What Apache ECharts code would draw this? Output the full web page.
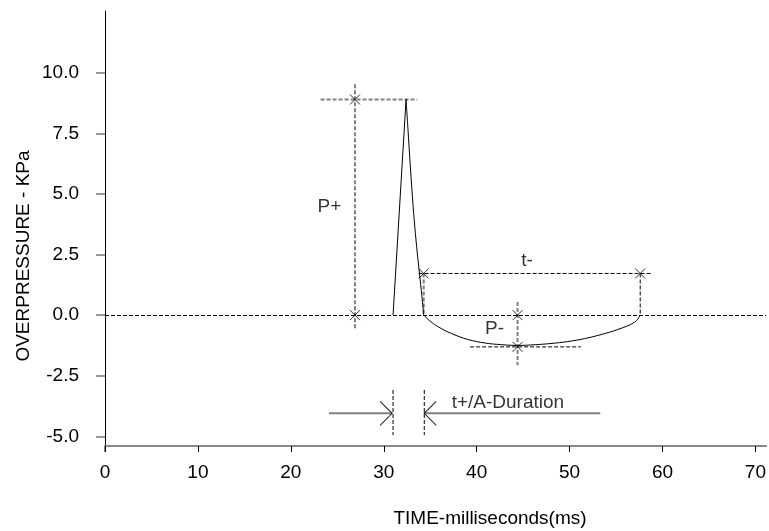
<!DOCTYPE html>
<html><head><meta charset="utf-8">
<script src="https://cdn.jsdelivr.net/npm/echarts@6/dist/echarts.min.js"></script>
<style>html,body{margin:0;padding:0;background:#fff}#c{width:769px;height:531px}</style>
</head><body><div id="c"></div>
<script>
// ---- data ----
const xTicks = [0, 10, 20, 30, 40, 50, 60, 70];
const yTicks = [-5, -2.5, 0, 2.5, 5, 7.5, 10];
const xTitle = 'TIME-milliseconds(ms)';
const yTitle = 'OVERPRESSURE - KPa';

const risePhase = [[31.0, 0], [32.4, 8.9]];
const decayPhase = [[32.4, 8.9], [32.6, 7.7], [32.85, 6.2], [33.1, 4.8], [33.35, 3.6], [33.6, 2.6], [33.85, 1.7], [34.1, 0.8], [34.3, 0]];
const negativePhase = [[34.3, 0], [35.0, -0.25], [35.9, -0.49], [37.3, -0.76], [39.1, -1.01], [40.9, -1.15], [42.7, -1.22], [44.5, -1.25], [46.3, -1.22], [48.0, -1.17], [49.8, -1.09], [51.6, -0.97], [53.4, -0.80], [55.2, -0.59], [57.0, -0.29], [57.6, 0]];

const crossMarkers = [[26.9, 8.9], [26.9, 0], [34.3, 1.72], [57.6, 1.72], [44.4, 0], [44.4, -1.31]];

const greyDashSegments = [
  [[26.9, 9.53], [26.9, -0.62]],
  [[23.2, 8.9], [33.6, 8.9]],
  [[34.3, 1.72], [34.3, 0]],
  [[44.4, 0.545], [44.4, -2.07]]
];
const blackDashSegments = [
  [[33.75, 1.72], [58.9, 1.72]],
  [[57.6, 1.72], [57.6, 0]],
  [[39.3, -1.31], [51.2, -1.31]],
  [[31.0, -3.09], [31.0, -4.95]],
  [[34.36, -3.09], [34.36, -4.95]]
];
const arrowShafts = [
  [[24.1, -4.05], [30.9, -4.05]],
  [[34.36, -4.05], [53.3, -4.05]]
];
const arrowTipsRight = [[30.9, -4.05]];
const arrowTipsLeft = [[34.36, -4.05]];

const annotationNames = ['P+', 't-', 'P-', 't+/A-Duration'];
const annotationAt = [[24.16, 4.47], [45.43, 2.23], [41.93, -0.58], [43.36, -3.62]];

// ---- chart ----
const FONT = '"Liberation Sans", Arial, sans-serif';
const chart = echarts.init(document.getElementById('c'), null, { renderer: 'canvas' });

function segSeries(segs, style) {
  return segs.map(s => ({
    type: 'line', data: s, symbol: 'none', silent: true, z: 2,
    lineStyle: style
  }));
}
const strokeOnly = { color: 'none', borderColor: '#000', borderWidth: 1 };

const series = [
  { type: 'line', data: risePhase, symbol: 'none', lineStyle: { color: '#000', width: 1 }, z: 3 },
  { type: 'line', data: decayPhase, symbol: 'none', smooth: 0.3, lineStyle: { color: '#000', width: 1 }, z: 3 },
  { type: 'line', data: negativePhase, symbol: 'none', smooth: 0.4, lineStyle: { color: '#000', width: 1 }, z: 3,
    markLine: { silent: true, symbol: 'none', label: { show: false }, animation: false,
      lineStyle: { color: '#000', width: 1, type: [4, 2] }, data: [{ yAxis: 0 }] } },
  ...segSeries(greyDashSegments, { color: '#808080', width: 2, type: [4, 2] }),
  ...segSeries(blackDashSegments, { color: '#000', width: 1, type: [4, 2] }),
  ...segSeries(arrowShafts, { color: '#808080', width: 2, type: 'solid' }),
  { type: 'scatter', data: crossMarkers, symbol: 'path://M0,0L1,1M1,0L0,1', symbolSize: 10, itemStyle: strokeOnly, z: 4 },
  { type: 'scatter', data: arrowTipsRight, symbol: 'path://M0,0L1,1L0,2', symbolSize: [12, 24], symbolOffset: [-6, 0], symbolKeepAspect: false, itemStyle: strokeOnly, z: 4 },
  { type: 'scatter', data: arrowTipsLeft, symbol: 'path://M1,0L0,1L1,2', symbolSize: [12, 24], symbolOffset: [6, 0], symbolKeepAspect: false, itemStyle: strokeOnly, z: 4 },
  { type: 'scatter', symbolSize: 1, itemStyle: { color: 'transparent' }, z: 5,
    data: annotationNames.map((n, i) => ({ name: n, value: annotationAt[i] })),
    label: { show: true, position: 'inside', formatter: p => p.name, fontSize: 19, color: '#000', fontFamily: FONT } }
];

chart.setOption({
  animation: false,
  backgroundColor: '#fff',
  grid: { left: 105, right: 0, top: 11, bottom: 85, containLabel: false },
  xAxis: {
    type: 'value', min: 0, max: 71.15,
    splitLine: { show: false },
    axisLine: { onZero: false, lineStyle: { color: '#888', width: 2 } },
    axisTick: { show: true, length: 6, lineStyle: { color: '#000', width: 1 }, customValues: xTicks },
    axisLabel: { customValues: xTicks, margin: 17, fontSize: 19, color: '#000', fontFamily: FONT }
  },
  yAxis: {
    type: 'value', min: -5.4, max: 12.55,
    splitLine: { show: false },
    axisLine: { show: true, onZero: false, lineStyle: { color: '#000', width: 1 } },
    axisTick: { show: true, length: 9, lineStyle: { color: '#777', width: 1.5 }, customValues: yTicks },
    axisLabel: { customValues: yTicks, margin: 26, fontSize: 19, color: '#000', fontFamily: FONT,
      formatter: v => Number(v).toFixed(1) }
  },
  graphic: [
    { type: 'text', x: 490, y: 519, style: { text: xTitle, fontSize: 19, fontFamily: FONT, fill: '#000', align: 'center', verticalAlign: 'middle' } },
    { type: 'text', x: 24, y: 256, rotation: Math.PI / 2, style: { text: yTitle, fontSize: 19, fontFamily: FONT, fill: '#000', align: 'center', verticalAlign: 'middle' } },
    { type: 'line', shape: { x1: 105, y1: 446, x2: 105, y2: 452 }, style: { stroke: '#000', lineWidth: 1 } }
  ],
  series: series
});
</script></body></html>
